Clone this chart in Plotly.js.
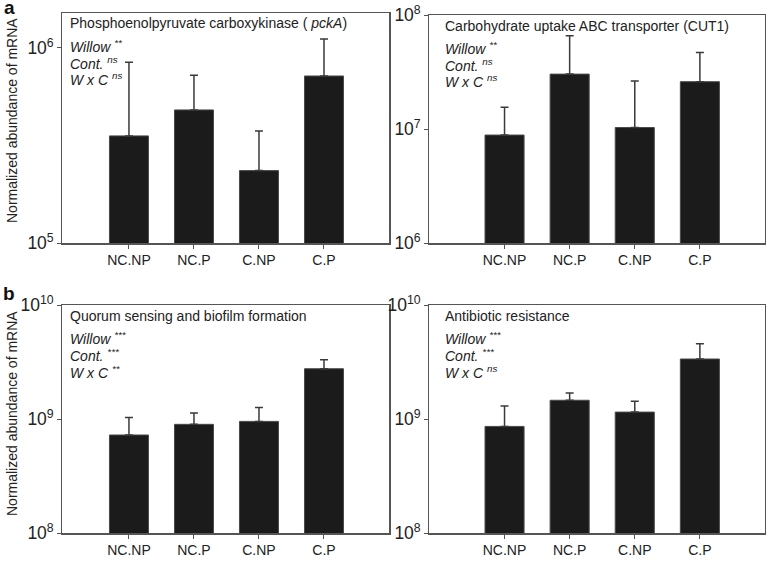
<!DOCTYPE html>
<html>
<head>
<meta charset="utf-8">
<script src="https://cdn.plot.ly/plotly-3.0.1.min.js"></script>
<style>html,body{margin:0;padding:0;background:#fff;}#chart{width:766px;height:562px;}</style>
</head>
<body>
<div id="chart"></div>
<script>
const categories = ["NC.NP", "NC.P", "C.NP", "C.P"];

// Panel a-left: Phosphoenolpyruvate carboxykinase (pckA)
const pckA_mean  = [3.54e5, 4.81e5, 2.35e5, 7.18e5];
const pckA_upper = [8.45e5, 7.25e5, 3.75e5, 1.11e6];
// Panel a-right: Carbohydrate uptake ABC transporter (CUT1)
const cut1_mean  = [8.85e6, 3.03e7, 1.03e7, 2.6e7];
const cut1_upper = [1.55e7, 6.58e7, 2.64e7, 4.69e7];
// Panel b-left: Quorum sensing and biofilm formation
const quorum_mean  = [7.24e8, 8.98e8, 9.53e8, 2.76e9];
const quorum_upper = [1.03e9, 1.13e9, 1.26e9, 3.31e9];
// Panel b-right: Antibiotic resistance
const antib_mean  = [8.61e8, 1.46e9, 1.15e9, 3.36e9];
const antib_upper = [1.30e9, 1.69e9, 1.43e9, 4.57e9];

const panelTitles = [
  "Phosphoenolpyruvate carboxykinase ( <i>pckA</i>)",
  "Carbohydrate uptake ABC transporter (CUT1)",
  "Quorum sensing and biofilm formation",
  "Antibiotic resistance"
];
const statLines = [
  ["<i>Willow <sup>**</sup></i>", "<i>Cont. <sup>ns</sup></i>", "<i>W x C <sup>ns</sup></i>"],
  ["<i>Willow <sup>**</sup></i>", "<i>Cont. <sup>ns</sup></i>", "<i>W x C <sup>ns</sup></i>"],
  ["<i>Willow <sup>***</sup></i>", "<i>Cont. <sup>***</sup></i>", "<i>W x C <sup>**</sup></i>"],
  ["<i>Willow <sup>***</sup></i>", "<i>Cont. <sup>***</sup></i>", "<i>W x C <sup>ns</sup></i>"]
];
const yLabel = "Normalized abundance of mRNA";
const panelLetters = ["a", "b"];

const W = 766, H = 562;
const FONT = "Liberation Sans, Arial, Helvetica, sans-serif";
const TXT = "#222";
const LINE = "#555";

const panels = [
  {mean: pckA_mean, upper: pckA_upper, px: [62, 389], py: [13, 243], yr: [5, 6.179], xr: [-1.03, 4.0], tx: 6},
  {mean: cut1_mean, upper: cut1_upper, px: [429, 765], py: [15, 243], yr: [6, 8], xr: [-1.16, 4.0], tx: 14},
  {mean: quorum_mean, upper: quorum_upper, px: [62, 389], py: [305, 533], yr: [8, 10], xr: [-1.03, 4.0], tx: 6},
  {mean: antib_mean, upper: antib_upper, px: [429, 765], py: [305, 533], yr: [8, 10], xr: [-1.16, 4.0], tx: 14}
];

const data = [];
const layout = {
  width: W, height: H,
  margin: {l: 0, r: 0, t: 0, b: 0},
  paper_bgcolor: "#fff", plot_bgcolor: "#fff",
  showlegend: false,
  font: {family: FONT, size: 14, color: TXT},
  annotations: []
};

panels.forEach((p, i) => {
  const n = i + 1;
  const xa = n === 1 ? "x" : "x" + n;
  const ya = n === 1 ? "y" : "y" + n;
  const xk = n === 1 ? "xaxis" : "xaxis" + n;
  const yk = n === 1 ? "yaxis" : "yaxis" + n;
  data.push({
    type: "bar",
    x: categories,
    y: p.mean,
    xaxis: xa, yaxis: ya,
    width: 0.6,
    marker: {color: "#1b1b1b", line: {color: "#4a4a4a", width: 1}},
    error_y: {
      type: "data", symmetric: false,
      array: p.upper.map((u, k) => u - p.mean[k]),
      arrayminus: p.mean.map(() => 0),
      color: "#3a3a3a", thickness: 1.5, width: 4
    },
    hoverinfo: "x+y"
  });
  layout[xk] = {
    domain: [p.px[0] / W, p.px[1] / W],
    anchor: ya,
    type: "category",
    range: p.xr,
    showgrid: false, zeroline: false,
    showline: true, mirror: true, linecolor: LINE, linewidth: 1.5,
    ticks: "outside", ticklen: 4, tickcolor: LINE, tickwidth: 1,
    tickfont: {family: FONT, size: 14, color: TXT}
  };
  layout[yk] = {
    domain: [1 - p.py[1] / H, 1 - p.py[0] / H],
    anchor: xa,
    type: "log",
    range: p.yr,
    dtick: 1,
    exponentformat: "power",
    showgrid: false, zeroline: false,
    showline: true, mirror: true, linecolor: LINE, linewidth: 1.5,
    ticks: "outside", ticklen: 4, tickcolor: LINE, tickwidth: 1,
    tickfont: {family: FONT, size: 14, color: TXT}
  };
  const lines = [panelTitles[i]].concat(statLines[i]);
  const offs = [10.5, 32.5, 49.5, 66.5];
  lines.forEach((t, k) => {
    layout.annotations.push({
      xref: "paper", yref: "paper",
      x: (p.px[0] + p.tx) / W,
      y: 1 - (p.py[0] + offs[k]) / H,
      xanchor: "left", yanchor: "middle",
      text: t, showarrow: false,
      font: {family: FONT, size: 14, color: TXT}
    });
  });
});

// Y-axis titles (one per row) and panel letters
[[121, 0], [414, 1]].forEach(([cy, r]) => {
  layout.annotations.push({
    xref: "paper", yref: "paper",
    x: 12 / W, y: 1 - cy / H,
    xanchor: "center", yanchor: "middle",
    textangle: -90,
    text: yLabel, showarrow: false,
    font: {family: FONT, size: 14, color: TXT}
  });
});
[[9, 7, 0], [9, 293, 1]].forEach(([cx, cy, r]) => {
  layout.annotations.push({
    xref: "paper", yref: "paper",
    x: cx / W, y: 1 - cy / H,
    xanchor: "center", yanchor: "middle",
    text: "<b>" + panelLetters[r] + "</b>", showarrow: false,
    font: {family: FONT, size: 19, color: "#111"}
  });
});

Plotly.newPlot("chart", data, layout, {displayModeBar: false, staticPlot: true});
</script>
</body>
</html>
